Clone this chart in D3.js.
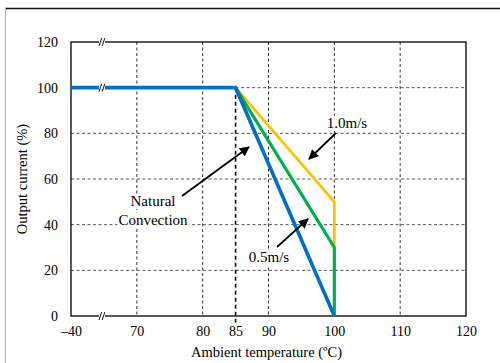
<!DOCTYPE html>
<html><head><meta charset="utf-8">
<script src="https://cdn.jsdelivr.net/npm/d3@7"></script>
<style>html,body{margin:0;padding:0;background:#fff;}svg{display:block;}
svg text{font-family:"Liberation Serif","Times New Roman",serif;}</style>
</head><body><svg id="c" width="500" height="363"></svg>
<script>
// ---- data ----
const xTicks = [-40, 70, 80, 85, 90, 100, 110, 120];
const xGrid = [70, 80, 90, 100, 110];
const yTicks = [0, 20, 40, 60, 80, 100, 120];
const yGrid = [20, 40, 60, 80];
const naturalTemp = [-40, 85, 100];
const naturalCurrent = [100, 100, 0];
const ms05Temp = [85, 100, 100];
const ms05Current = [100, 30, 0];
const ms10Temp = [85, 100, 100];
const ms10Current = [100, 50, 30];
const seriesLabels = ["Natural", "Convection", "0.5m/s", "1.0m/s"];
const xTitle = "Ambient temperature (ºC)";
const yTitle = "Output current (%)";

const svg = d3.select("#c");
const font = "Liberation Serif";
const L = 71, R = 466, T = 42, B = 316;
const x = d3.scaleLinear().domain([-40, 70, 120]).range([L, L + (R - L) / 6, R]);
const y = d3.scaleLinear().domain([0, 120]).range([B, T]);

// outer frame
svg.append("line").attr("x1", 5).attr("x2", 500).attr("y1", 8.5).attr("y2", 8.5).attr("stroke", "#111").attr("stroke-width", 1.3);
svg.append("line").attr("x1", 5.5).attr("x2", 5.5).attr("y1", 8).attr("y2", 363).attr("stroke", "#aaa").attr("stroke-width", 1);

// gridlines
const g = svg.append("g");
g.selectAll(".vg").data(xGrid).join("line")
  .attr("x1", d => x(d)).attr("x2", d => x(d)).attr("y1", T).attr("y2", B)
  .attr("stroke", "#333").attr("stroke-width", 1).attr("stroke-dasharray", "3,2.5");
g.selectAll(".hg").data(yGrid).join("line")
  .attr("x1", L).attr("x2", R).attr("y1", d => y(d)).attr("y2", d => y(d))
  .attr("stroke", "#555").attr("stroke-width", 1).attr("stroke-dasharray", "3,2.5");
g.append("line").attr("x1", x(85)).attr("x2", R).attr("y1", y(100)).attr("y2", y(100))
  .attr("stroke", "#555").attr("stroke-width", 1).attr("stroke-dasharray", "3,2.5");
// 85 line
g.append("line").attr("x1", x(85)).attr("x2", x(85)).attr("y1", y(100)).attr("y2", B + 8)
  .attr("stroke", "#111").attr("stroke-width", 1.6).attr("stroke-dasharray", "4,3");

// frame
svg.append("rect").attr("x", L).attr("y", T).attr("width", R - L).attr("height", B - T)
  .attr("fill", "none").attr("stroke", "#000").attr("stroke-width", 1.3);

// axes labels
const xAxis = d3.axisBottom(x).tickValues(xTicks).tickSize(0).tickPadding(10).tickFormat(d => d < 0 ? "\u2013" + Math.abs(d) : d);
const xa = svg.append("g").attr("transform", `translate(0,${B})`).call(xAxis);
xa.select(".domain").remove();
xa.attr("font-family", font).attr("font-size", 14);
xa.selectAll("text").style("font-family", font).style("font-size", "14px").attr("fill", "#000");
const yAxis = d3.axisLeft(y).tickValues(yTicks).tickSize(0).tickPadding(13);
const ya = svg.append("g").attr("transform", `translate(${L},0)`).call(yAxis);
ya.select(".domain").remove();
ya.attr("font-family", font).attr("font-size", 14);
ya.selectAll("text").style("font-family", font).style("font-size", "14px").attr("fill", "#000");

// series
const line = d3.line().x(d => x(d[0])).y(d => y(d[1]));
const series = [
  {t: ms10Temp, c: ms10Current, color: "#FFC000", w: 2.6},
  {t: ms05Temp, c: ms05Current, color: "#00B050", w: 3.2},
  {t: naturalTemp, c: naturalCurrent, color: "#0070C0", w: 3.6}
];
series.forEach(s => {
  svg.append("path").datum(d3.zip(s.t, s.c)).attr("d", line)
    .attr("fill", "none").attr("stroke", s.color).attr("stroke-width", s.w).attr("stroke-linejoin", "miter");
});

// break marks
const bx = x(-40) + (x(70) - x(-40)) * 0.47;
[120, 100, 0].forEach(v => {
  const yy = y(v);
  const bg = svg.append("g").attr("transform", `translate(${bx},${yy})`);
  bg.append("rect").attr("x", -3).attr("y", -1.8).attr("width", 6).attr("height", 3.6).attr("fill", "#fff");
  [-1.6, 1.6].forEach(o => bg.append("line").attr("x1", o - 1.3).attr("y1", 4).attr("x2", o + 1.3).attr("y2", -4)
    .attr("stroke", "#000").attr("stroke-width", 0.9));
});

// titles
svg.append("text").attr("x", (L + R) / 2 - 2).attr("y", 357).attr("text-anchor", "middle")
  .style("font-family", font).style("font-size", "14.5px").text(xTitle);
svg.append("text").attr("transform", `translate(27,${(T + B) / 2}) rotate(-90)`).attr("text-anchor", "middle")
  .style("font-family", font).style("font-size", "14.5px").text(yTitle);

// annotations
svg.append("defs").append("marker").attr("id", "ah").attr("viewBox", "0 0 10 10").attr("refX", 9).attr("refY", 5)
  .attr("markerWidth", 11).attr("markerHeight", 10).attr("orient", "auto").attr("markerUnits", "userSpaceOnUse")
  .append("path").attr("d", "M0,0 L10,5 L0,10 z").attr("fill", "#000");
function arrow(x1, y1, x2, y2) {
  svg.append("line").attr("x1", x1).attr("y1", y1).attr("x2", x2).attr("y2", y2)
    .attr("stroke", "#000").attr("stroke-width", 1.8).attr("marker-end", "url(#ah)");
}
const ann = svg.append("g");
function label(txt, cx, by) {
  const t = ann.append("text").attr("x", cx).attr("y", by).attr("text-anchor", "middle")
    .style("font-family", font).style("font-size", "15px").text(txt);
  const bb = t.node().getBBox();
  ann.insert("rect", "text").attr("x", bb.x - 1).attr("y", bb.y + 1).attr("width", bb.width + 2).attr("height", bb.height - 1).attr("fill", "#fff");
}
label(seriesLabels[0], 153, 206);
label(seriesLabels[1], 153, 225);
label(seriesLabels[2], 269, 262);
label(seriesLabels[3], 347, 128);
arrow(182, 196, 249, 147);
arrow(277, 247, 308, 219);
arrow(336, 133, 309, 159);
</script></body></html>
